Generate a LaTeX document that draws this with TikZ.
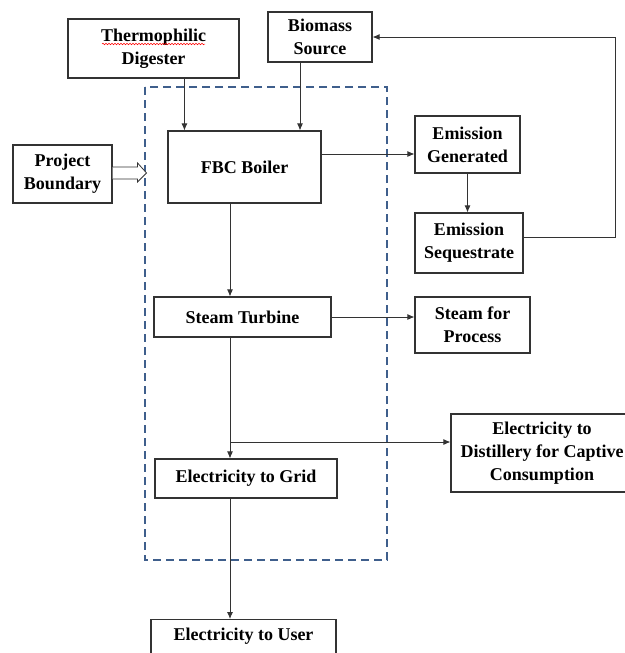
\documentclass[tikz,border=0pt]{standalone}
\usepackage{fontspec}
\setmainfont{Liberation Serif}
\usetikzlibrary{arrows.meta,calc,decorations.pathmorphing}
\definecolor{boundblue}{HTML}{3F5F8C}
\definecolor{linegray}{HTML}{333333}
\tikzset{
  box/.style={draw=linegray, line width=1.1pt, fill=white, align=center, inner sep=0pt,
    font=\fontsize{18}{23}\selectfont\bfseries},
  arr/.style={draw=linegray, line width=0.9pt, -{Latex[length=7pt,width=6pt]}},
  boundary/.style={draw=boundblue, line width=1.8pt, dash pattern=on 8pt off 5pt},
}
\begin{document}
\begin{tikzpicture}[x=1pt,y=-1pt]
\useasboundingbox (0,0) rectangle (624,653);
% project boundary (dashed)
\draw[boundary] (145,87) rectangle (387,560);
\coordinate (spine) at (230,0);
% nodes
\node[box, minimum width=171pt, minimum height=59pt] (thermo) at (153.5,48.5) {Thermophilic\\Digester};
\node[box, minimum width=104pt, minimum height=50pt] (bio) at (320,37) {Biomass\\Source};
\node[box, minimum width=153pt, minimum height=72pt] (fbc) at (244.5,167) {FBC Boiler};
\node[box, minimum width=99pt, minimum height=58pt] (pb) at (62.5,174) {Project\\Boundary};
\node[box, minimum width=105pt, minimum height=57pt] (gen) at (467.5,144.5) {Emission\\Generated};
\node[box, minimum width=108pt, minimum height=60pt] (seq) at (469,243) {Emission\\Sequestrate};
\node[box, minimum width=177pt, minimum height=40pt] (turb) at (242.5,317) {Steam Turbine};
\node[box, minimum width=115pt, minimum height=56pt] (proc) at (472.5,325) {Steam for\\Process};
\node[box, minimum width=182pt, minimum height=78pt] (dist) at (542,453) {Electricity to\\Distillery for Captive\\Consumption};
\node[box, minimum width=182pt, minimum height=39pt] (grid) at (246,478.5) {Electricity to Grid};
\node[box, minimum width=185pt, anchor=north, text height=17pt, text depth=22pt, inner ysep=4pt] (user) at (243.5,619) {Electricity to User};
% spell-check squiggle
\draw[red, line width=0.5pt, decorate, decoration={snake, amplitude=0.8pt, segment length=3pt}] (102,44) -- (205,44);
% connectors
\coordinate (fbcA) at ([xshift=17pt]fbc.north west);
\draw[arr] (thermo.south -| fbcA) -- (fbcA);
\coordinate (fbcB) at ([xshift=-20pt]bio.south);
\draw[arr] (fbcB) -- (fbcB |- fbc.north);
\draw[arr] ([yshift=13pt]fbc.east) -- ([yshift=-9.5pt]gen.west);
\draw[arr] (gen.south) -- (gen.south |- seq.north);
\draw[arr] ([yshift=6pt]seq.east) -- ++(92,0) |- (bio.east);
\draw[arr] (fbc.south -| spine) -- (turb.north -| spine);
\draw[arr] (turb.east) -- (turb.east -| proc.west);
\draw[arr] (turb.south -| spine) -- (grid.north -| spine);
\coordinate (br) at (230,442);
\draw[arr] (br) -- (br -| dist.west);
\draw[arr] (grid.south -| spine) -- (user.north -| spine);
% hollow block arrow from project boundary
\draw[draw=linegray, line width=0.8pt, fill=white]
  ($(pb.east)+(0,-7)$) -- ($(pb.east)+(25,-7)$) -- ($(pb.east)+(25,-11)$) -- ($(pb.east)+(34,-1)$)
  -- ($(pb.east)+(25,8)$) -- ($(pb.east)+(25,5)$) -- ($(pb.east)+(0,5)$);
\end{tikzpicture}
\end{document}
